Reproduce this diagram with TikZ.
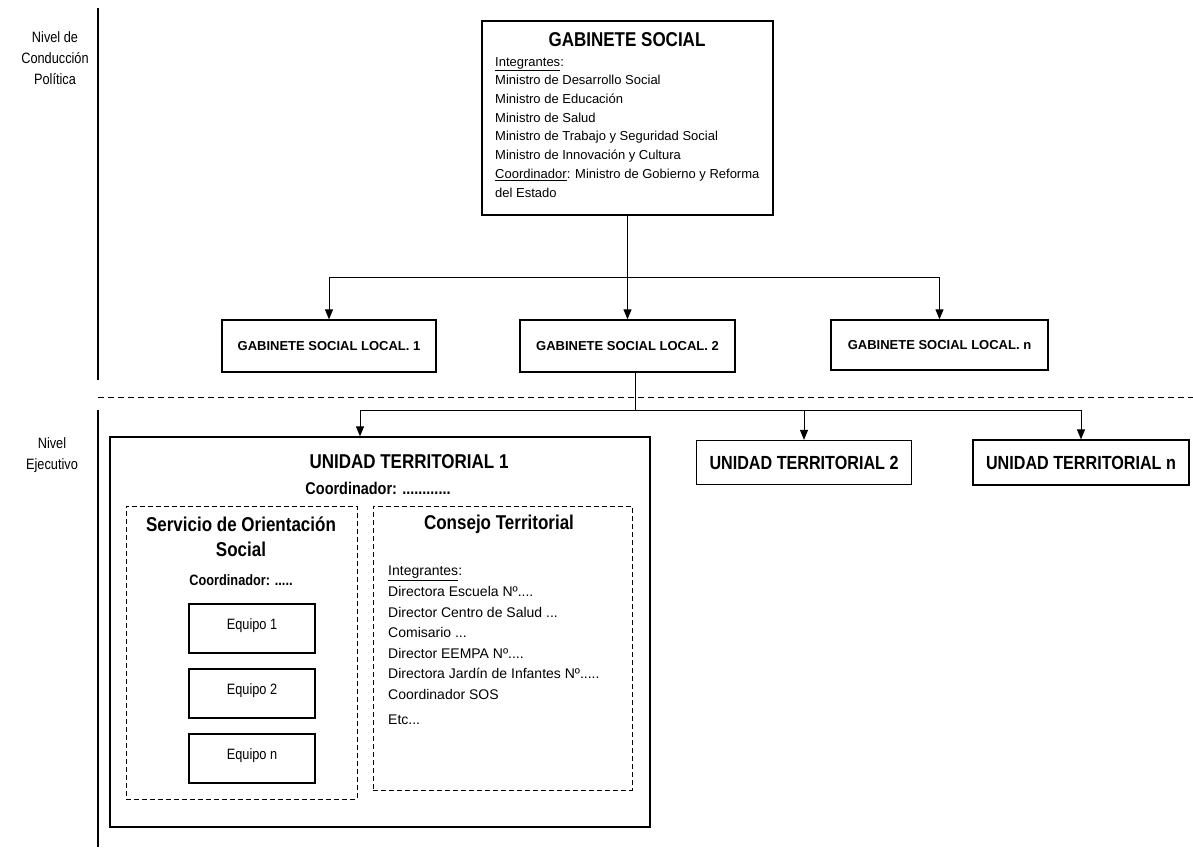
\documentclass[tikz,border=0pt]{standalone}
\usepackage{fontspec}
\setmainfont{Liberation Sans}
\newfontfamily\narrowfont{Liberation Sans}[FakeStretch=0.85]
\usetikzlibrary{arrows.meta,positioning}

\begin{document}
\begin{tikzpicture}[x=1pt, y=-1pt, >={Triangle[length=10pt,width=8pt]},
  orgbox/.style={draw, line width=1.3pt, inner sep=0pt},
  groupbox/.style={draw, line width=1pt, dash pattern=on 5pt off 3pt, inner sep=0pt},
  teambox/.style={draw, line width=1.2pt, inner sep=0pt, minimum width=126pt,
    minimum height=49pt, text depth=8pt, font=\narrowfont\fontsize{15}{17}\selectfont},
  link/.style={line width=1pt},
  headline/.style={font=\narrowfont\bfseries\fontsize{20}{25}\selectfont, align=center},
  unitname/.style={font=\narrowfont\bfseries\fontsize{19}{22}\selectfont},
  localname/.style={font=\bfseries\fontsize{13}{15}\selectfont},
  levelname/.style={font=\narrowfont\fontsize{15}{21}\selectfont, align=center},
  members/.style={anchor=north west, inner sep=0pt, align=left}]

\useasboundingbox (0,0) rectangle (1193,847);

%% =============== Levels ===============
\node[levelname] (lvlPol) at (55,58) {Nivel de\\Conducción\\Política};
\node[levelname] (lvlEje) at (52,455) {Nivel\\Ejecutivo};
\draw[line width=1.1pt] (98,8) -- (98,380);
\draw[line width=1.1pt] (98,410) -- (98,847);
\draw[line width=1pt, dash pattern=on 6pt off 4pt] (98,397) -- (1193,397);

%% =============== Gabinete Social ===============
\node[orgbox, minimum width=291pt, minimum height=194pt] (gab) at (627.5,118) {};
\node[headline] (gabTitle) at (627,40) {GABINETE SOCIAL};
\node[members, font=\fontsize{13}{18.7}\selectfont] (gabList) at (495,57)
  {\underline{Integrantes}:\\
   Ministro de Desarrollo Social\\
   Ministro de Educación\\
   Ministro de Salud\\
   Ministro de Trabajo y Seguridad Social\\
   Ministro de Innovación y Cultura\\
   \underline{Coordinador}: Ministro de Gobierno y Reforma\\
   del Estado};

% --- Gabinetes locales ---
\node[orgbox, localname, minimum width=214pt, minimum height=52pt] (gslOne) at (329,346) {GABINETE SOCIAL LOCAL. 1};
\node[orgbox, localname, minimum width=215pt, minimum height=52pt] (gslTwo) at (627.5,346) {GABINETE SOCIAL LOCAL. 2};
\node[orgbox, localname, minimum width=217pt, minimum height=50pt] (gslN) at (939.5,345) {GABINETE SOCIAL LOCAL. n};

\coordinate (busTop) at (627.5,277);
\draw[link] (gab.south) -- (busTop);
\draw[link] (busTop -| gslOne) -- (busTop -| gslN);
\foreach \g in {gslOne, gslTwo, gslN}
  \draw[link, ->] (busTop -| \g) -- (\g.north);

%% =============== Unidades territoriales ===============
\node[orgbox, minimum width=540pt, minimum height=390pt] (utOne) at (380,632) {};
\node[orgbox, unitname, minimum width=215pt, minimum height=44pt] (utTwo) at (804,462.5) {UNIDAD TERRITORIAL 2};
\node[orgbox, unitname, minimum width=216pt, minimum height=45pt] (utN) at (1081,462.5) {UNIDAD TERRITORIAL n};

\coordinate (busLow) at (635,410);
\coordinate (dropOne) at (360,410);
\draw[link] (busLow |- gslTwo.south) -- (busLow);
\draw[link] (dropOne) -- (busLow -| utN);
\draw[link, ->] (dropOne) -- (dropOne |- utOne.north);
\draw[link, ->] (busLow -| utTwo) -- (utTwo.north);
\draw[link, ->] (busLow -| utN) -- (utN.north);

\node[headline] (utOneTitle) at (409,462) {UNIDAD TERRITORIAL 1};
\node[font=\narrowfont\bfseries\fontsize{17}{20}\selectfont] (utOneCoord) at (378,488) {Coordinador: ............};

% --- Servicio de Orientacion Social ---
\node[groupbox, minimum width=231pt, minimum height=293pt] (sos) at (241.5,652.5) {};
\node[headline] (sosTitle) at (241,537) {Servicio de Orientación\\Social};
\node[font=\narrowfont\bfseries\fontsize{15}{18}\selectfont] (sosCoord) at (241,580) {Coordinador: .....};
\node[teambox] (eqOne) at (252,628.5) {Equipo 1};
\node[teambox] (eqTwo) at (252,693.5) {Equipo 2};
\node[teambox] (eqN)   at (252,758.5) {Equipo n};

% --- Consejo Territorial ---
\node[groupbox, minimum width=259pt, minimum height=284pt] (cons) at (502.5,648) {};
\node[headline] (consTitle) at (499,524) {Consejo Territorial};
\node[members, font=\fontsize{14}{20.6}\selectfont] (consList) at (388,566)
  {\underline{Integrantes}:\\
   Directora Escuela Nº....\\
   Director Centro de Salud ...\\
   Comisario ...\\
   Director EEMPA Nº....\\
   Directora Jardín de Infantes Nº.....\\
   Coordinador SOS\\[4pt]
   Etc...};

\end{tikzpicture}
\end{document}
